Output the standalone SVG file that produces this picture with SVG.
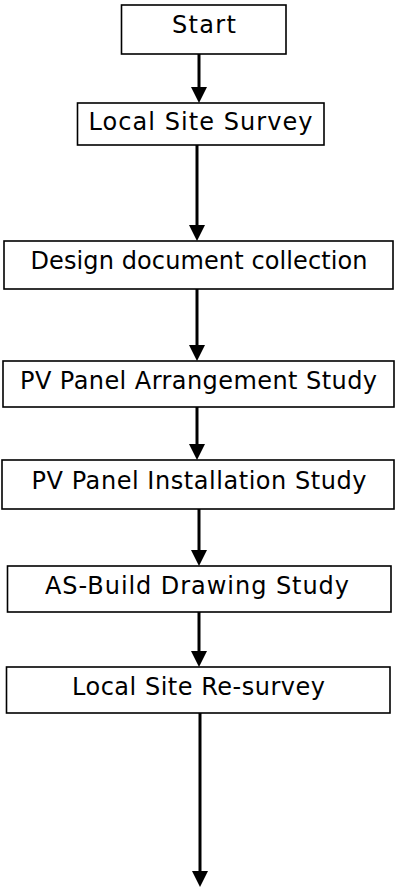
<svg xmlns="http://www.w3.org/2000/svg" width="395" height="891" viewBox="0 0 395 891">
  <style>
    .box { fill: #ffffff; stroke: #000000; stroke-width: 1.6; }
    .label { font-family: "DejaVu Sans", "Liberation Sans", sans-serif; font-size: 24px; fill: #000000; text-anchor: middle; }
    .flow { stroke: #000000; stroke-width: 3; fill: none; marker-end: url(#head); }
  </style>
  <defs>
    <marker id="head" markerUnits="userSpaceOnUse" markerWidth="16" markerHeight="16" refX="0" refY="8" orient="auto" viewBox="0 0 16 16">
      <path d="M0,0 L16,8 L0,16 Z" fill="#000000"/>
    </marker>
  </defs>

  <!-- process steps -->
  <g id="start">
    <rect class="box" x="121.5" y="5" width="164.5" height="49"/>
    <text class="label" x="204" y="33" textLength="64" lengthAdjust="spacing">Start</text>
  </g>
  <g id="local-site-survey">
    <rect class="box" x="77.5" y="103" width="246.5" height="42"/>
    <text class="label" x="200.5" y="130" textLength="224" lengthAdjust="spacing">Local Site Survey</text>
  </g>
  <g id="design-document-collection">
    <rect class="box" x="4" y="241" width="389" height="48"/>
    <text class="label" x="199" y="269" textLength="337" lengthAdjust="spacing">Design document collection</text>
  </g>
  <g id="pv-panel-arrangement-study">
    <rect class="box" x="3" y="361" width="391" height="46"/>
    <text class="label" x="198.5" y="389" textLength="357" lengthAdjust="spacing">PV Panel Arrangement Study</text>
  </g>
  <g id="pv-panel-installation-study">
    <rect class="box" x="2" y="460" width="392" height="49"/>
    <text class="label" x="199" y="489" textLength="335" lengthAdjust="spacing">PV Panel Installation Study</text>
  </g>
  <g id="as-build-drawing-study">
    <rect class="box" x="7.5" y="566" width="383.5" height="46"/>
    <text class="label" x="197" y="594" textLength="304" lengthAdjust="spacing">AS-Build Drawing Study</text>
  </g>
  <g id="local-site-resurvey">
    <rect class="box" x="6.5" y="667" width="383.5" height="46"/>
    <text class="label" x="198.5" y="695" textLength="253" lengthAdjust="spacing">Local Site Re-survey</text>
  </g>

  <!-- connectors -->
  <g id="connectors">
    <line class="flow" x1="199" y1="54" x2="199" y2="87"/>
    <line class="flow" x1="197" y1="145" x2="197" y2="225"/>
    <line class="flow" x1="197" y1="289" x2="197" y2="345"/>
    <line class="flow" x1="197" y1="407" x2="197" y2="444"/>
    <line class="flow" x1="199" y1="509" x2="199" y2="550"/>
    <line class="flow" x1="199" y1="612" x2="199" y2="651"/>
    <line class="flow" x1="200" y1="713" x2="200" y2="871"/>
  </g>
</svg>
